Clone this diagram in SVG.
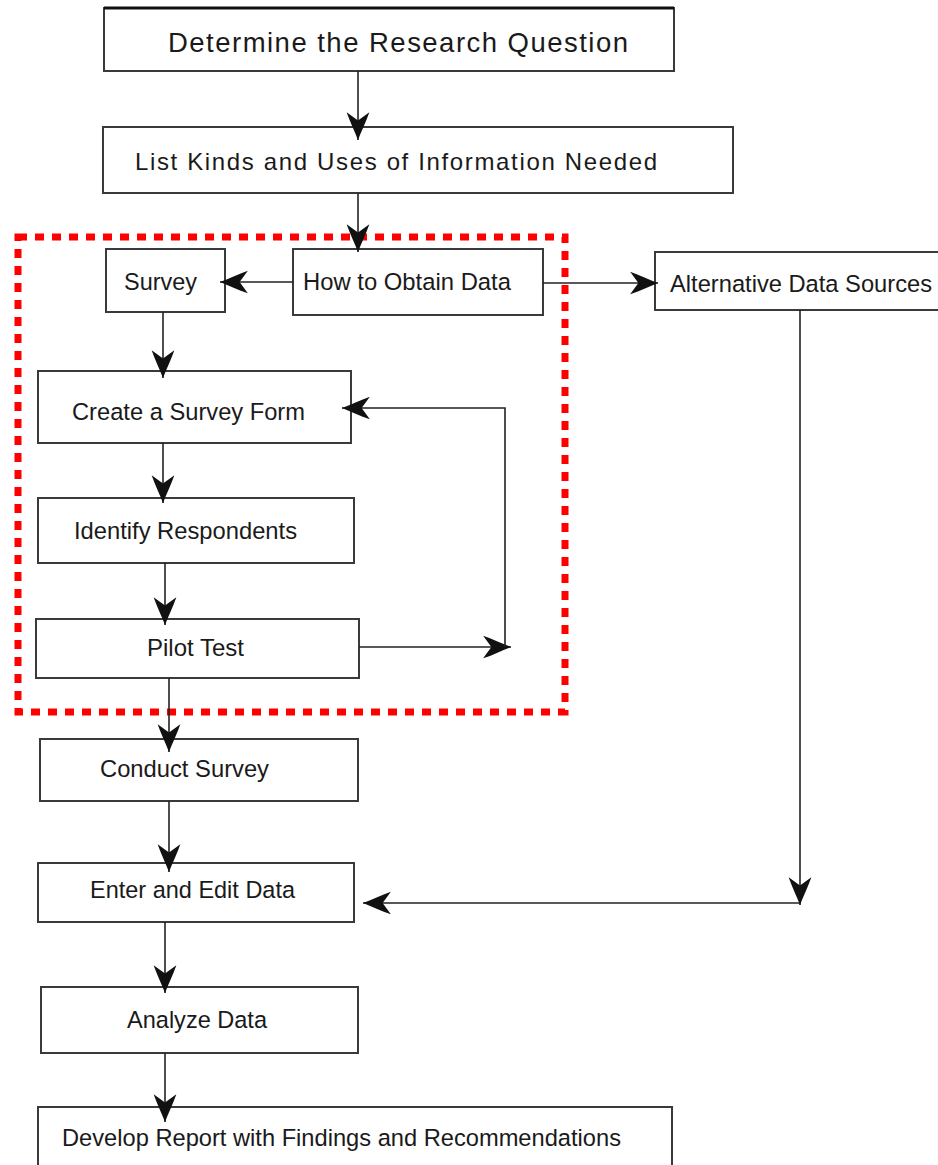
<svg xmlns="http://www.w3.org/2000/svg" width="938" height="1165" viewBox="0 0 938 1165">
<style>
.box{fill:#fff;stroke:#3a3a3a;stroke-width:2}
.lbl{font-family:"Liberation Sans",Arial,Helvetica,sans-serif;font-size:23.7px;fill:#1a1a1a}
.con{fill:none;stroke:#222;stroke-width:1.6;marker-end:url(#ah)}
</style>
<defs>
<marker id="ah" markerUnits="userSpaceOnUse" orient="auto" refX="0" refY="0" markerWidth="32" markerHeight="28" viewBox="-29 -13 31 26" overflow="visible">
<path d="M0,0 C-8,-3 -18,-8 -27,-11 L-19,0 L-27,11 C-18,8 -8,3 0,0 Z" fill="#111"/>
</marker>
</defs>
<rect width="938" height="1165" fill="#fff"/>

<g id="dashed-region">
<rect x="18" y="237" width="547" height="475" fill="none" stroke="#f00" stroke-width="7" stroke-dasharray="9 8"/>
</g>

<g id="n-determine">
<rect class="box" x="104" y="8" width="570" height="63"/>
<line x1="104" y1="8" x2="674" y2="8" stroke="#111" stroke-width="3"/>
<text class="lbl" x="168" y="52" style="font-size:27.5px" textLength="460" lengthAdjust="spacing">Determine the Research Question</text>
</g>
<g id="n-list">
<rect class="box" x="103" y="127" width="630" height="66"/>
<text class="lbl" x="135" y="170" style="font-size:24px" textLength="522" lengthAdjust="spacing">List Kinds and Uses of Information Needed</text>
</g>
<g id="n-survey">
<rect class="box" x="106" y="249" width="119" height="63"/>
<text class="lbl" x="124" y="290" textLength="73" lengthAdjust="spacingAndGlyphs">Survey</text>
</g>
<g id="n-how">
<rect class="box" x="293" y="249" width="250" height="66"/>
<text class="lbl" x="303" y="290" textLength="208" lengthAdjust="spacingAndGlyphs">How to Obtain Data</text>
</g>
<g id="n-alt">
<rect class="box" x="655" y="252" width="290" height="58"/>
<text class="lbl" x="670" y="292" textLength="262" lengthAdjust="spacingAndGlyphs">Alternative Data Sources</text>
</g>
<g id="n-create">
<rect class="box" x="38" y="371" width="313" height="72"/>
<text class="lbl" x="72" y="420" textLength="233" lengthAdjust="spacingAndGlyphs">Create a Survey Form</text>
</g>
<g id="n-identify">
<rect class="box" x="38" y="498" width="316" height="65"/>
<text class="lbl" x="74" y="539" textLength="223" lengthAdjust="spacingAndGlyphs">Identify Respondents</text>
</g>
<g id="n-pilot">
<rect class="box" x="36" y="619" width="323" height="59"/>
<text class="lbl" x="147" y="656" textLength="97" lengthAdjust="spacingAndGlyphs">Pilot Test</text>
</g>
<g id="n-conduct">
<rect class="box" x="40" y="739" width="318" height="62"/>
<text class="lbl" x="100" y="777" textLength="169" lengthAdjust="spacingAndGlyphs">Conduct Survey</text>
</g>
<g id="n-enter">
<rect class="box" x="38" y="863" width="316" height="59"/>
<text class="lbl" x="90" y="898" textLength="205" lengthAdjust="spacingAndGlyphs">Enter and Edit Data</text>
</g>
<g id="n-analyze">
<rect class="box" x="41" y="987" width="317" height="66"/>
<text class="lbl" x="127" y="1028" textLength="140" lengthAdjust="spacingAndGlyphs">Analyze Data</text>
</g>
<g id="n-develop">
<rect class="box" x="38" y="1107" width="634" height="80"/>
<text class="lbl" x="62" y="1146" textLength="559" lengthAdjust="spacingAndGlyphs">Develop Report with Findings and Recommendations</text>
</g>

<g id="connectors">
<path class="con" d="M358,71 V140"/>
<path class="con" d="M358,193 V252"/>
<path class="con" d="M293,282 H220"/>
<path class="con" d="M543,283 H658"/>
<path class="con" d="M163,312 V378"/>
<path class="con" d="M163,443 V503"/>
<path class="con" d="M165,563 V625"/>
<path class="con" d="M359,647 H511"/>
<path class="con" d="M505,647 V408 H342"/>
<path class="con" d="M169,678 V752"/>
<path class="con" d="M169,801 V872"/>
<path class="con" d="M800,310 V905"/>
<path class="con" d="M800,903 H363"/>
<path class="con" d="M165,922 V993"/>
<path class="con" d="M165,1053 V1122"/>
</g>
</svg>
